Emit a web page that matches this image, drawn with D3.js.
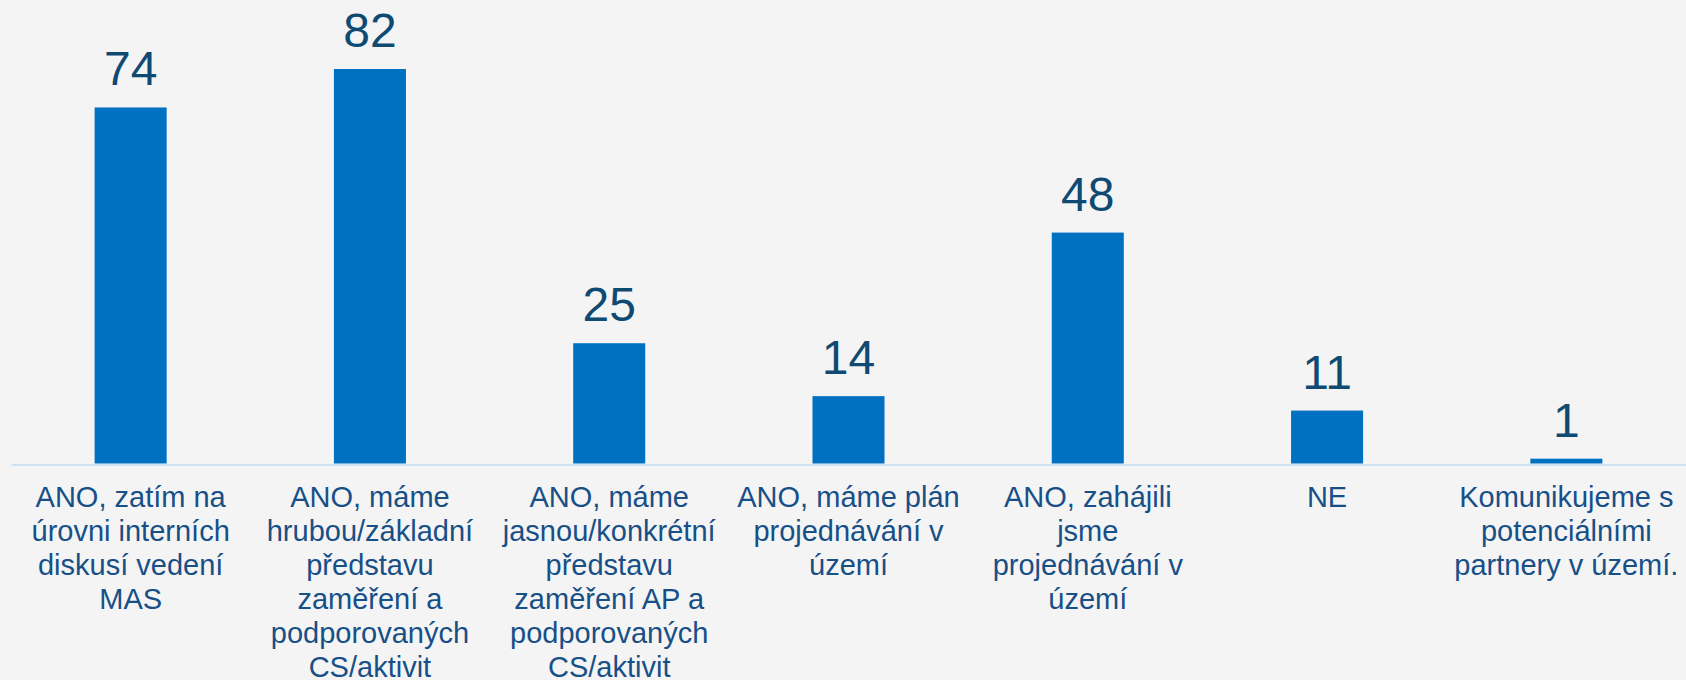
<!DOCTYPE html>
<html>
<head>
<meta charset="utf-8">
<script src="https://cdn.jsdelivr.net/npm/d3@7"></script>
<style>
  html, body { margin: 0; padding: 0; background: #f4f4f4; }
  svg { display: block; }
</style>
</head>
<body>
<svg id="chart" width="1686" height="680"></svg>
<script>
// Answer categories (line breaks as shown under each bar)
const categories = [
  "ANO, zatím na\núrovni interních\ndiskusí vedení\nMAS",
  "ANO, máme\nhrubou/základní\npředstavu\nzaměření a\npodporovaných\nCS/aktivit",
  "ANO, máme\njasnou/konkrétní\npředstavu\nzaměření AP a\npodporovaných\nCS/aktivit",
  "ANO, máme plán\nprojednávání v\núzemí",
  "ANO, zahájili\njsme\nprojednávání v\núzemí",
  "NE",
  "Komunikujeme s\npotenciálními\npartnery v území."
];
// Number of responses per category
const counts = [74, 82, 25, 14, 48, 11, 1];

const W = 1686, H = 680;
const svg = d3.select("#chart");

svg.append("rect").attr("width", W).attr("height", H).attr("fill", "#f4f4f4");

const x = d3.scaleBand()
  .domain(categories)
  .range([11, 1686])
  .paddingInner(0.699)
  .paddingOuter(0.3495);

const y = d3.scaleLinear()
  .domain([0, 82])
  .range([463.5, 69]);

// Bars
svg.append("g")
  .selectAll("rect")
  .data(counts)
  .join("rect")
  .attr("x", (d, i) => x(categories[i]))
  .attr("width", x.bandwidth())
  .attr("y", d => y(d))
  .attr("height", d => y(0) - y(d))
  .attr("fill", "#0070c0");

// Value labels above the bars
svg.append("g")
  .selectAll("text")
  .data(counts)
  .join("text")
  .attr("x", (d, i) => x(categories[i]) + x.bandwidth() / 2)
  .attr("y", d => y(d) - 22)
  .attr("text-anchor", "middle")
  .attr("font-family", "'Liberation Sans', Arial, sans-serif")
  .attr("font-size", 48)
  .attr("fill", "#0f4a73")
  .text(d => d);

// Category axis
const axis = svg.append("g")
  .attr("transform", "translate(0,464.5)")
  .call(d3.axisBottom(x).tickSize(0).tickSizeOuter(0).tickFormat(""));
axis.select(".domain")
  .attr("stroke", "#cfe2f4")
  .attr("stroke-width", 2);

// Multi-line category labels
const labels = svg.append("g")
  .selectAll("text")
  .data(categories)
  .join("text")
  .attr("x", d => x(d) + x.bandwidth() / 2)
  .attr("y", 507)
  .attr("text-anchor", "middle")
  .attr("font-family", "'Liberation Sans', Arial, sans-serif")
  .attr("font-size", 29)
  .attr("fill", "#174f87");

labels.each(function(d) {
  const t = d3.select(this);
  const cx = t.attr("x");
  d.split("\n").forEach((line, i) => {
    t.append("tspan")
      .attr("x", cx)
      .attr("dy", i === 0 ? 0 : 34)
      .text(line);
  });
});
</script>
</body>
</html>
